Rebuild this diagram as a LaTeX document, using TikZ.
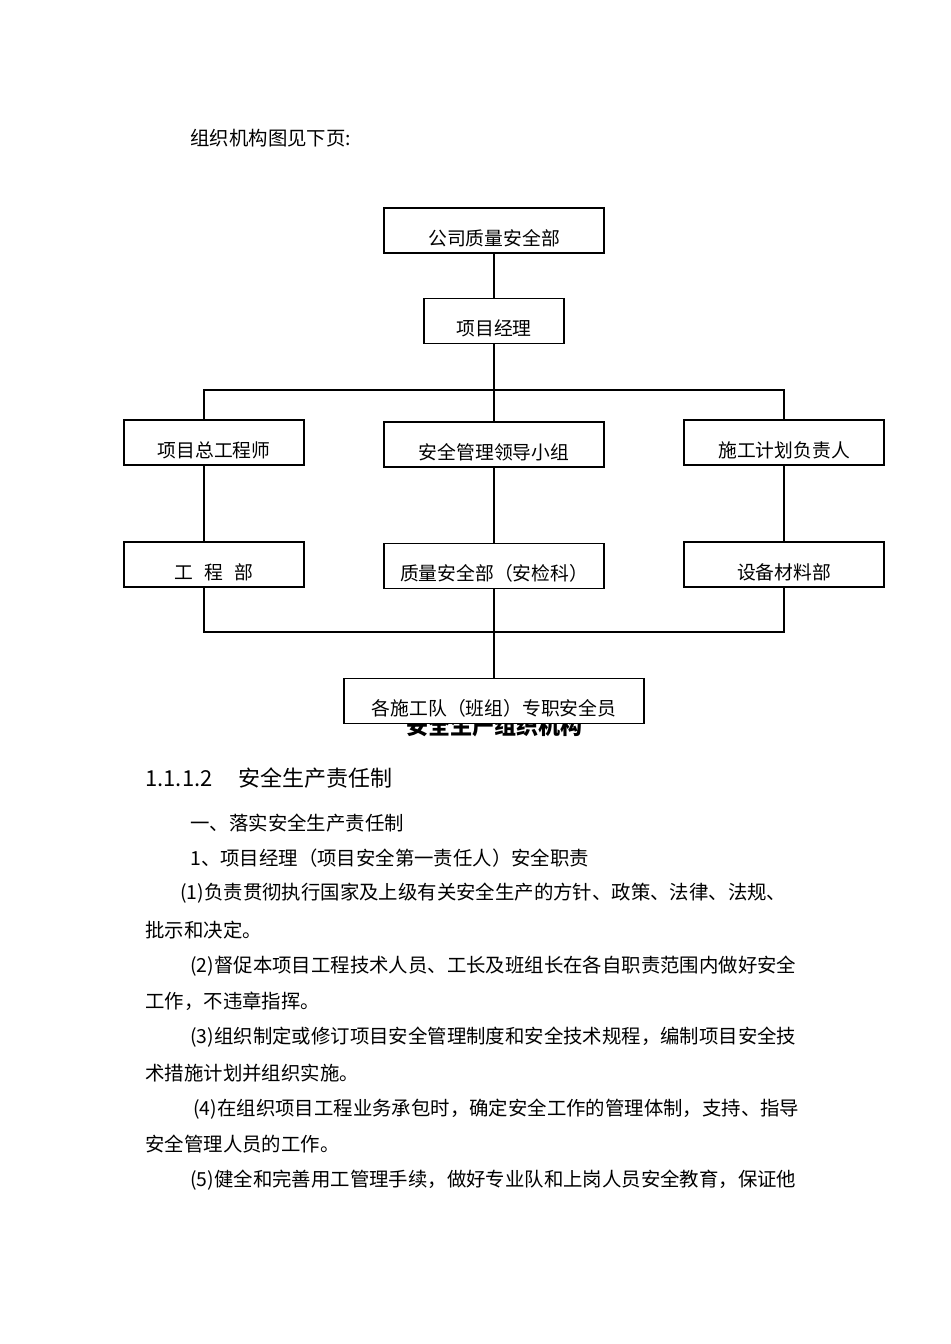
\documentclass[tikz,border=0pt]{standalone}
\usepackage{fontspec}
\setmainfont{Noto Sans CJK SC}
\usetikzlibrary{positioning}
\tikzset{
  bx/.style={draw, line width=0.8pt, fill=white, inner sep=0pt, text height=18.5pt, text depth=4pt, font=\fontsize{9.4pt}{11pt}\selectfont},
  wire/.style={line width=0.8pt},
  txt/.style={anchor=west, inner sep=0pt, font=\fontsize{9.7pt}{12pt}\selectfont},
}
\begin{document}
\begin{tikzpicture}[x=0.5pt, y=-0.5pt]
  \fill[white] (0,0) rectangle (950,1344);
  \useasboundingbox (0,0) rectangle (950,1344);
  % intro line
  \node[txt] (intro) at (190,138) {组织机构图见下页:};
  % chart
  \node[bx, minimum width=110pt] (co) at (494,230.5) {公司质量安全部};
  \node[bx, minimum width=70pt] (pm) at (494,321) {项目经理};
  \node[bx, minimum width=90pt] (chief) at (214,442.5) {项目总工程师};
  \node[bx, minimum width=110pt] (lead) at (494,444.5) {安全管理领导小组};
  \node[bx, minimum width=100pt] (plan) at (784,442.5) {施工计划负责人};
  \node[bx, minimum width=90pt] (eng) at (214,564.5) {工\hspace{0.6em}程\hspace{0.6em}部};
  \node[bx, minimum width=110pt] (qsd) at (494,566) {质量安全部（安检科）};
  \node[bx, minimum width=100pt] (equip) at (784,564.5) {设备材料部};
  \coordinate (bus1) at (494,390);
  \coordinate (bus2) at (494,632);
  \coordinate (c1) at (204,0);
  \coordinate (c3) at (784,0);
  \draw[wire] (co) -- (pm);
  \draw[wire] (pm) -- (bus1) -- (lead);
  \draw[wire] (c1 |- chief.north) |- (bus1) -| (plan.north);
  \draw[wire] (lead) -- (qsd);
  \draw[wire] (c1 |- chief.south) -- (c1 |- eng.north);
  \draw[wire] (plan) -- (equip);
  \draw[wire] (c1 |- eng.south) |- (bus2) -| (equip.south);
  % caption (partly hidden by the bottom box)
  \node[font=\fontsize{11pt}{13pt}\selectfont\bfseries] (cap) at (494,726) {安全生产组织机构};
  \node[bx, minimum width=150pt] (team) at (494,701) {各施工队（班组）专职安全员};
  \draw[wire] (qsd) -- (team);
  % text below
  \node[txt, font=\fontsize{11pt}{13pt}\selectfont] (sec) at (145,778) {1.1.1.2\hspace{1.2em}安全生产责任制};
  \node[txt] (l1) at (190,823) {一、落实安全生产责任制};
  \node[txt] (l2) at (190,858) {1、项目经理（项目安全第一责任人）安全职责};
  \node[txt] (l3) at (180,893) {(1)负责贯彻执行国家及上级有关安全生产的方针、政策、法律、法规、};
  \node[txt] (l4) at (145,930) {批示和决定。};
  \node[txt] (l5) at (190,966) {(2)督促本项目工程技术人员、工长及班组长在各自职责范围内做好安全};
  \node[txt] (l6) at (145,1001) {工作，不违章指挥。};
  \node[txt] (l7) at (190,1037) {(3)组织制定或修订项目安全管理制度和安全技术规程，编制项目安全技};
  \node[txt] (l8) at (145,1073) {术措施计划并组织实施。};
  \node[txt] (l9) at (193,1109) {(4)在组织项目工程业务承包时，确定安全工作的管理体制，支持、指导};
  \node[txt] (l10) at (145,1144) {安全管理人员的工作。};
  \node[txt] (l11) at (190,1180) {(5)健全和完善用工管理手续，做好专业队和上岗人员安全教育，保证他};
\end{tikzpicture}
\end{document}
